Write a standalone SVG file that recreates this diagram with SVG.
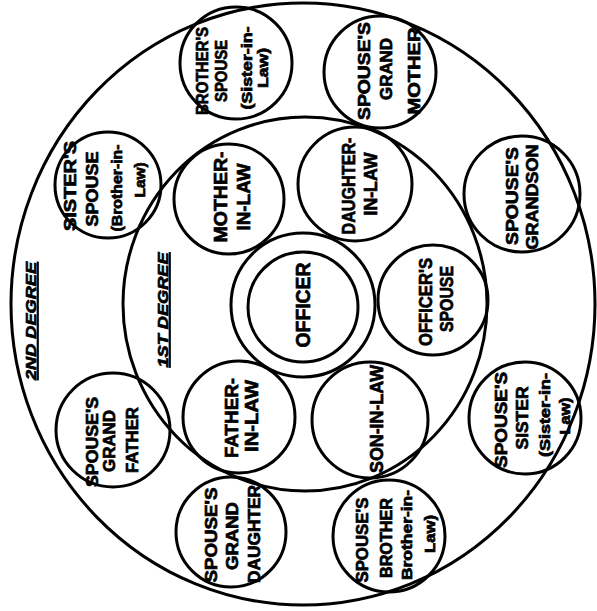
<svg xmlns="http://www.w3.org/2000/svg" width="597" height="611" viewBox="0 0 597 611">
<style>
.c{fill:none;stroke:#000;stroke-width:3}
.t{font-family:"Liberation Sans",Arial,sans-serif;font-weight:bold;text-anchor:middle;fill:#000;stroke:#000;stroke-width:0.7}
.big{font-size:21px}
.mid{font-size:19px}
.sm{font-size:16px}
.xs{font-size:14px}
.lab{font-size:15px;font-style:italic;text-decoration:underline}
</style>
<rect width="597" height="611" fill="#fff"/>
<g id="ring-2nd-degree">
<ellipse class="c" cx="303" cy="304" rx="292" ry="301"/>
<text class="t lab" transform="translate(36,321) rotate(-90)" textLength="118" lengthAdjust="spacingAndGlyphs">2ND DEGREE</text>
</g>
<g id="ring-1st-degree">
<ellipse class="c" cx="305" cy="304" rx="182" ry="187"/>
<text class="t lab" transform="translate(168,310) rotate(-90)" textLength="115" lengthAdjust="spacingAndGlyphs">1ST DEGREE</text>
</g>
<g id="officer">
<circle class="c" cx="303" cy="305" r="72"/>
<circle class="c" cx="303" cy="307" r="55"/>
<text class="t big" transform="translate(310,305) rotate(-90)" textLength="85" lengthAdjust="spacingAndGlyphs">OFFICER</text>
</g>
<g id="mother-in-law">
<circle class="c" cx="229" cy="199" r="55"/>
<text class="t mid" transform="translate(227,197) rotate(-90)" textLength="91" lengthAdjust="spacingAndGlyphs">MOTHER-</text>
<text class="t mid" transform="translate(250,197) rotate(-90)" textLength="67" lengthAdjust="spacingAndGlyphs">IN-LAW</text>
</g>
<g id="daughter-in-law">
<circle class="c" cx="355" cy="184" r="57"/>
<text class="t mid" transform="translate(355,186) rotate(-90)" textLength="97" lengthAdjust="spacingAndGlyphs">DAUGHTER-</text>
<text class="t mid" transform="translate(377,184) rotate(-90)" textLength="63" lengthAdjust="spacingAndGlyphs">IN-LAW</text>
</g>
<g id="officers-spouse">
<circle class="c" cx="433" cy="300" r="55"/>
<text class="t mid" transform="translate(432,302) rotate(-90)" textLength="88" lengthAdjust="spacingAndGlyphs">OFFICER'S</text>
<text class="t mid" transform="translate(453,299) rotate(-90)" textLength="66" lengthAdjust="spacingAndGlyphs">SPOUSE</text>
</g>
<g id="father-in-law">
<circle class="c" cx="239" cy="417" r="56"/>
<text class="t mid" transform="translate(238,418) rotate(-90)" textLength="80" lengthAdjust="spacingAndGlyphs">FATHER-</text>
<text class="t mid" transform="translate(258,416) rotate(-90)" textLength="72" lengthAdjust="spacingAndGlyphs">IN-LAW</text>
</g>
<g id="son-in-law">
<circle class="c" cx="370" cy="420" r="58"/>
<text class="t mid" transform="translate(383,419) rotate(-90)" textLength="108" lengthAdjust="spacingAndGlyphs">SON-IN-LAW</text>
</g>
<g id="brothers-spouse">
<circle class="c" cx="236" cy="63" r="56"/>
<text class="t sm" transform="translate(208,71) rotate(-90)" textLength="88" lengthAdjust="spacingAndGlyphs">BROTHER'S</text>
<text class="t sm" transform="translate(227,71) rotate(-90)" textLength="62" lengthAdjust="spacingAndGlyphs">SPOUSE</text>
<text class="t xs" transform="translate(252,68) rotate(-90)" textLength="83" lengthAdjust="spacingAndGlyphs">(Sister-in-</text>
<text class="t xs" transform="translate(268,68) rotate(-90)" textLength="40" lengthAdjust="spacingAndGlyphs">Law)</text>
</g>
<g id="spouses-grand-mother">
<circle class="c" cx="380" cy="72" r="56"/>
<text class="t sm" transform="translate(370,71) rotate(-90)" textLength="98" lengthAdjust="spacingAndGlyphs">SPOUSE'S</text>
<text class="t sm" transform="translate(392,69) rotate(-90)" textLength="62" lengthAdjust="spacingAndGlyphs">GRAND</text>
<text class="t sm" transform="translate(420,71) rotate(-90)" textLength="87" lengthAdjust="spacingAndGlyphs">MOTHER</text>
</g>
<g id="spouses-grandson">
<circle class="c" cx="522" cy="194" r="58"/>
<text class="t sm" transform="translate(518,196) rotate(-90)" textLength="98" lengthAdjust="spacingAndGlyphs">SPOUSE'S</text>
<text class="t sm" transform="translate(538,197) rotate(-90)" textLength="105" lengthAdjust="spacingAndGlyphs">GRANDSON</text>
</g>
<g id="spouses-sister">
<circle class="c" cx="525" cy="418" r="56"/>
<text class="t sm" transform="translate(507,420) rotate(-90)" textLength="96" lengthAdjust="spacingAndGlyphs">SPOUSE'S</text>
<text class="t sm" transform="translate(528,418) rotate(-90)" textLength="63" lengthAdjust="spacingAndGlyphs">SISTER</text>
<text class="t xs" transform="translate(550,415) rotate(-90)" textLength="84" lengthAdjust="spacingAndGlyphs">(Sister-in-</text>
<text class="t xs" transform="translate(570,416) rotate(-90)" textLength="37" lengthAdjust="spacingAndGlyphs">Law)</text>
</g>
<g id="spouses-brother">
<circle class="c" cx="389" cy="536" r="56"/>
<text class="t sm" transform="translate(368,540) rotate(-90)" textLength="85" lengthAdjust="spacingAndGlyphs">SPOUSE'S</text>
<text class="t sm" transform="translate(392,538) rotate(-90)" textLength="80" lengthAdjust="spacingAndGlyphs">BROTHER</text>
<text class="t xs" transform="translate(412,535) rotate(-90)" textLength="90" lengthAdjust="spacingAndGlyphs">Brother-in-</text>
<text class="t xs" transform="translate(435,534) rotate(-90)" textLength="38" lengthAdjust="spacingAndGlyphs">Law)</text>
</g>
<g id="spouses-grand-daughter">
<circle class="c" cx="231" cy="532" r="55"/>
<text class="t sm" transform="translate(217,535) rotate(-90)" textLength="95" lengthAdjust="spacingAndGlyphs">SPOUSE'S</text>
<text class="t sm" transform="translate(238,536) rotate(-90)" textLength="68" lengthAdjust="spacingAndGlyphs">GRAND</text>
<text class="t sm" transform="translate(260,534) rotate(-90)" textLength="98" lengthAdjust="spacingAndGlyphs">DAUGHTER</text>
</g>
<g id="spouses-grand-father">
<circle class="c" cx="113" cy="430" r="57"/>
<text class="t sm" transform="translate(98,442) rotate(-90)" textLength="90" lengthAdjust="spacingAndGlyphs">SPOUSE'S</text>
<text class="t sm" transform="translate(115,441) rotate(-90)" textLength="62" lengthAdjust="spacingAndGlyphs">GRAND</text>
<text class="t sm" transform="translate(138,440) rotate(-90)" textLength="66" lengthAdjust="spacingAndGlyphs">FATHER</text>
</g>
<g id="sisters-spouse">
<circle class="c" cx="108" cy="185" r="53"/>
<text class="t sm" transform="translate(76,186) rotate(-90)" textLength="90" lengthAdjust="spacingAndGlyphs">SISTER'S</text>
<text class="t sm" transform="translate(98,189) rotate(-90)" textLength="75" lengthAdjust="spacingAndGlyphs">SPOUSE</text>
<text class="t xs" transform="translate(122,188) rotate(-90)" textLength="87" lengthAdjust="spacingAndGlyphs">(Brother-in-</text>
<text class="t xs" transform="translate(145,180) rotate(-90)" textLength="35" lengthAdjust="spacingAndGlyphs">Law)</text>
</g>
</svg>
